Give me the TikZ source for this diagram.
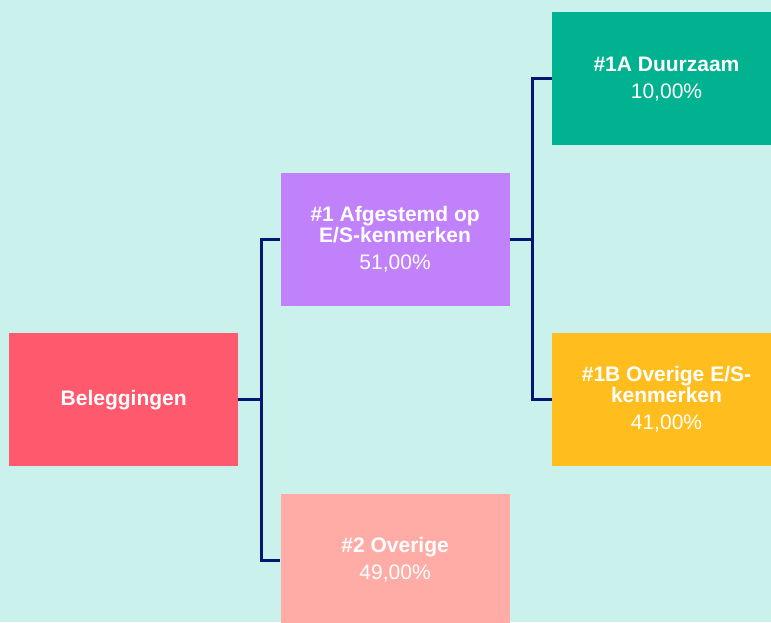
\documentclass[tikz,border=0pt]{standalone}
\usepackage{fontspec}
\setmainfont{Liberation Sans}
\usetikzlibrary{positioning}

\definecolor{bgmint}{HTML}{CBF1EC}
\definecolor{belred}{HTML}{FF596E}
\definecolor{afgpurple}{HTML}{C081FB}
\definecolor{ovrsalmon}{HTML}{FFABA6}
\definecolor{duuteal}{HTML}{00B290}
\definecolor{ovbyellow}{HTML}{FFBE1E}
\definecolor{linknavy}{HTML}{061670}

\begin{document}
\begin{tikzpicture}[
    x=1pt, y=-1pt,
    box/.style={rectangle, minimum width=229pt, minimum height=133pt, inner sep=0pt, text=white, align=center, font=\fontsize{21}{21}\selectfont\bfseries},
    pct/.style={font=\fontsize{21}{21}\selectfont\mdseries},
    link/.style={draw=linknavy, line width=3pt}
]

% Canvas
\useasboundingbox (0,0) rectangle (771,622);
\fill[bgmint] (0,0) rectangle (771,622);
\clip (0,0) rectangle (771,622);

% Boxes
\node[box, fill=belred, anchor=north west] (bel) at (9,333) {Beleggingen};
\node[box, fill=afgpurple, above right=27pt and 42pt of bel] (afg) {\#1 Afgestemd op\\E/S-kenmerken\\[6pt]{\mdseries 51,00\%}};
\node[box, fill=ovrsalmon, below right=27pt and 42pt of bel] (ovr) {\#2 Overige\\[6pt]{\mdseries 49,00\%}};
\node[box, fill=duuteal, above right=27pt and 42pt of afg] (duu) {\#1A Duurzaam\\[6pt]{\mdseries 10,00\%}};
\node[box, fill=ovbyellow, below right=27pt and 42pt of afg] (ovb) {\#1B Overige E/S-\\kenmerken\\[6pt]{\mdseries 41,00\%}};

% Connectors
\draw[link] (bel.east) -- ++(23,0) |- (afg.west);
\draw[link] (bel.east) -- ++(23,0) |- (ovr.west);
\draw[link] (afg.east) -- ++(23,0) |- (duu.west);
\draw[link] (afg.east) -- ++(23,0) |- (ovb.west);

\end{tikzpicture}
\end{document}
